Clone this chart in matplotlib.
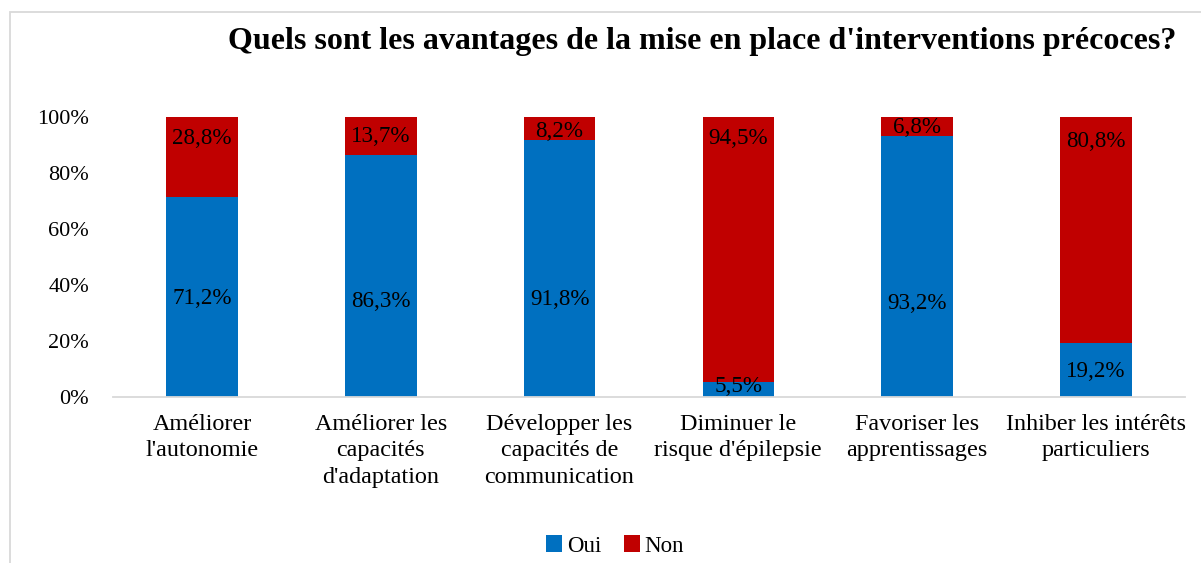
#!/usr/bin/env python

import numpy as np
import matplotlib
matplotlib.use('Agg')
import matplotlib.pyplot as plt
from matplotlib.patches import Rectangle

plt.rcParams['font.family'] = ['Liberation Serif', 'DejaVu Serif']

title = "Quels sont les avantages de la mise en place d'interventions précoces?"
categories = ["Améliorer\nl'autonomie",
              "Améliorer les\ncapacités\nd'adaptation",
              "Développer les\ncapacités de\ncommunication",
              "Diminuer le\nrisque d'épilepsie",
              "Favoriser les\napprentissages",
              "Inhiber les intérêts\nparticuliers"]
oui = [71.2, 86.3, 91.8, 5.5, 93.2, 19.2]
non = [28.8, 13.7, 8.2, 94.5, 6.8, 80.8]
yticks = [0, 20, 40, 60, 80, 100]

# where the data labels sit (in % of the axis), as placed in the original
oui_label_y = [35.2, 34.0, 34.9, 3.7, 33.5, 9.0]
non_label_y = [92.4, 93.0, 94.7, 92.4, 96.3, 91.0]

blue = '#0070C0'
red = '#C00000'


def pct(v):
    return ('%.1f%%' % v).replace('.', ',')


fig = plt.figure(figsize=(12.01, 5.63), dpi=100)
ax = fig.add_axes([0.0938, 0.2948, 0.893, 0.4979])

ind = np.arange(len(categories))
width = 0.40
b1 = ax.bar(ind, oui, width, color=blue, label='Oui')
b2 = ax.bar(ind, non, width, bottom=oui, color=red, label='Non')

for i in ind:
    ax.text(i, oui_label_y[i], pct(oui[i]), ha='center', va='center', fontsize=16.6)
    ax.text(i, non_label_y[i], pct(non[i]), ha='center', va='center', fontsize=16.6)

ax.set_xlim(-0.5, len(categories) - 0.5)
ax.set_ylim(0, 100)
ax.set_yticks(yticks)
ax.set_yticklabels(['%d%%' % v for v in yticks], fontsize=16)
ax.set_xticks(ind)
ax.set_xticklabels(categories, fontsize=17.4, linespacing=1.36)
ax.tick_params(axis='both', length=0)
ax.tick_params(axis='y', pad=17)
ax.tick_params(axis='x', pad=12)
for s in ['top', 'right', 'left']:
    ax.spines[s].set_visible(False)
ax.spines['bottom'].set_color('#D9D9D9')
ax.spines['bottom'].set_linewidth(1.3)

fig.text(702 / 1201., 1 - 41 / 563., title, ha='center', va='center',
         fontsize=23, fontweight='bold')

fig.legend(handles=[b1, b2], labels=['Oui', 'Non'], loc='center',
           bbox_to_anchor=(615 / 1201., 1 - 546 / 563.), ncol=2, frameon=False,
           fontsize=16.5, handlelength=0.7, handleheight=0.7,
           handletextpad=0.2, columnspacing=1.0)

# chart frame, cut off at the right and bottom like the original
fig.patches.append(Rectangle((10 / 1201., -0.1), 1.2, 1.1 - 12 / 563.,
                             transform=fig.transFigure, fill=False,
                             edgecolor='#D9D9D9', linewidth=1.3))

plt.savefig('out.png', dpi=100)
